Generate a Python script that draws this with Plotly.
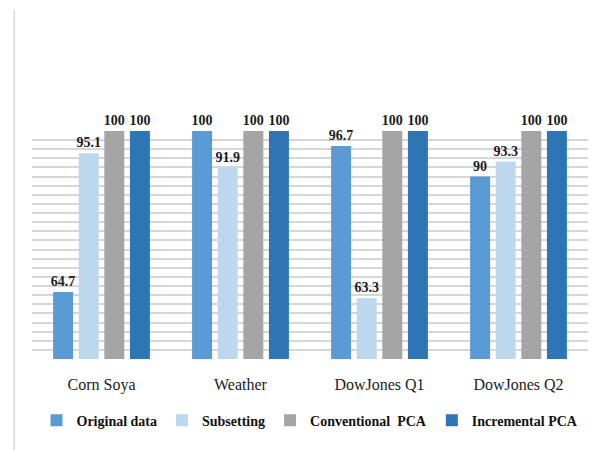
import plotly.graph_objects as go

categories = ["Corn Soya", "Weather", "DowJones Q1", "DowJones Q2"]
series_names = ["Original data", "Subsetting", "Conventional\u00a0 PCA", "Incremental PCA"]
original = [64.7, 100, 96.7, 90]
subsetting = [95.1, 91.9, 63.3, 93.3]
conventional = [100, 100, 100, 100]
incremental = [100, 100, 100, 100]
colors = ["#5B9BD5", "#BDD7EE", "#A5A5A5", "#2E75B6"]

SERIF = "'Liberation Serif', 'Times New Roman', Times, 'DejaVu Serif', serif"

fig = go.Figure()
for name, vals, col in zip(series_names, [original, subsetting, conventional, incremental], colors):
    fig.add_trace(go.Bar(
        x=categories, y=vals, name=name,
        marker=dict(color=col, line=dict(width=0)),
        text=[f"{v:g}" for v in vals], textposition="outside",
        constraintext="none",
        textfont=dict(family=SERIF, size=14, color="#1a1a1a", weight="bold"),
        cliponaxis=False,
    ))

fig.update_layout(
    width=606, height=450,
    margin=dict(l=32, r=18, t=131, b=91),
    paper_bgcolor="white", plot_bgcolor="white",
    barmode="group", bargap=0.263, bargroupgap=0.22,
    showlegend=True,
    legend=dict(orientation="h", x=0.5, xanchor="center", y=-0.27, yanchor="middle",
                font=dict(family=SERIF, size=14, color="#111", weight="bold"),
                itemwidth=30, tracegroupgap=0, traceorder="normal",
                borderwidth=0),
    xaxis=dict(showgrid=False, showline=False, ticks="",
               ticklabelstandoff=14,
               tickfont=dict(family=SERIF, size=16, color="#222")),
    yaxis=dict(range=[50, 100], dtick=2, tick0=50, showticklabels=False,
               showgrid=True, gridcolor="#d6d6d6", gridwidth=1.5,
               zeroline=False, showline=False, ticks=""),
    shapes=[dict(type="line", xref="paper", yref="paper",
                 x0=-0.032, x1=-0.032, y0=-0.42, y1=1.53,
                 line=dict(color="#d9d9d9", width=1.5))],
)

fig.write_html("out.html")
